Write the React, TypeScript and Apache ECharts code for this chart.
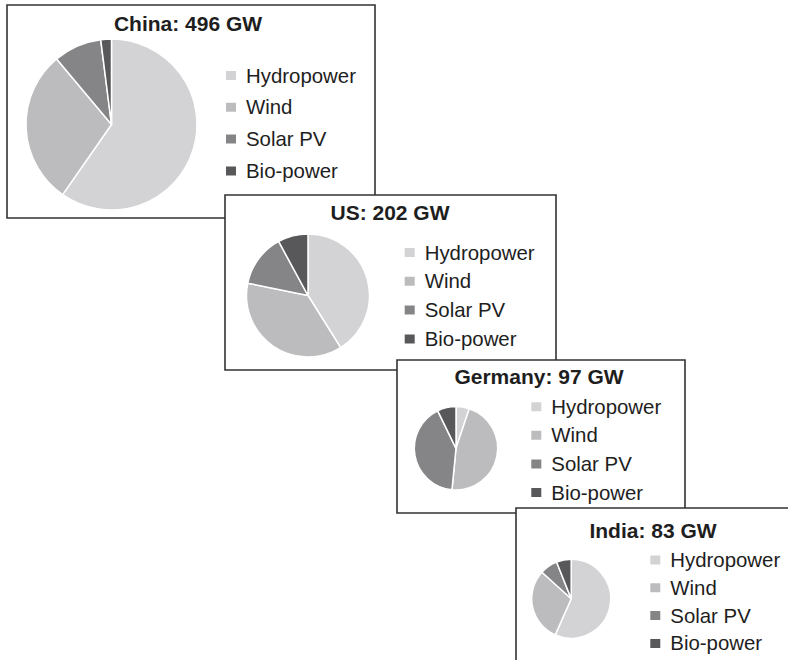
import React, { useEffect, useRef } from "react";
import * as echarts from "echarts";

const categories = ["Hydropower", "Wind", "Solar PV", "Bio-power"];
const countries = ["China", "US", "Germany", "India"];
const totalsGW = [496, 202, 97, 83];
const chinaValues = [296, 145, 45, 10];
const usValues = [83, 75, 28, 16];
const germanyValues = [5, 45, 40, 7];
const indiaValues = [47, 25, 6, 5];
const seriesValues = [chinaValues, usValues, germanyValues, indiaValues];
const colors = ["#d3d3d5", "#bcbcbe", "#858587", "#58585a"];

const FONT = "'Liberation Sans', Arial, Helvetica, sans-serif";

// layout of each panel: box [x, y, w, h], pie centre, radius, title, legend
const panels = [
  { box: [7, 5, 368, 213], center: [111.5, 124.5], radius: 85.5, titleX: 188, titleTop: 13, legendLeft: 224, legendTop: 65.5, legendGap: 11.8 },
  { box: [225, 195, 331, 175], center: [308, 295.5], radius: 61.5, titleX: 390, titleTop: 202, legendLeft: 402.7, legendTop: 242.5, legendGap: 8.8 },
  { box: [397, 360, 288, 153], center: [456, 448.3], radius: 41.7, titleX: 539, titleTop: 365.5, legendLeft: 529.3, legendTop: 396.7, legendGap: 8.6 },
  { box: [516, 508, 300, 200], center: [571.2, 598.8], radius: 39.5, titleX: 653, titleTop: 519.5, legendLeft: 648.3, legendTop: 550, legendGap: 7.8 },
];

export default function App() {
  const ref = useRef<HTMLDivElement>(null);
  useEffect(() => {
    if (!ref.current) return;
    const chart = echarts.init(ref.current, undefined, { renderer: "svg" });
    const option: any = {
      animation: false,
      color: colors,
      title: panels.map((p, i) => ({
        text: `${countries[i]}: ${totalsGW[i]} GW`,
        left: p.titleX,
        top: p.titleTop,
        textAlign: "center",
        padding: 0,
        textStyle: { fontFamily: FONT, fontSize: 21, fontWeight: "bold", color: "#1e1e1e", lineHeight: 21 },
      })),
      legend: panels.map((p) => ({
        orient: "vertical",
        left: p.legendLeft,
        top: p.legendTop,
        padding: 0,
        itemGap: p.legendGap,
        itemWidth: 12,
        itemHeight: 11,
        icon: "rect",
        selectedMode: false,
        data: categories,
        textStyle: { fontFamily: FONT, fontSize: 20.4, color: "#1e1e1e", lineHeight: 20, padding: [0, 0, 0, 4] },
      })),
      graphic: panels.map((p) => ({
        type: "rect",
        shape: { x: p.box[0], y: p.box[1], width: p.box[2], height: p.box[3] },
        style: { fill: "#fff", stroke: "#333", lineWidth: 1.6 },
        z: 0,
      })),
      series: panels.map((p, i) => ({
        type: "pie",
        center: p.center,
        radius: p.radius,
        startAngle: 90,
        clockwise: true,
        silent: true,
        label: { show: false },
        labelLine: { show: false },
        emphasis: { disabled: true },
        itemStyle: { borderColor: "#fff", borderWidth: 1.5 },
        data: categories.map((c, k) => ({ name: c, value: seriesValues[i][k] })),
      })),
    };
    chart.setOption(option);
    return () => chart.dispose();
  }, []);
  return (
    <div
      ref={ref}
      style={{ position: "absolute", left: 0, top: 0, width: 788, height: 660, background: "#fff" }}
    />
  );
}
